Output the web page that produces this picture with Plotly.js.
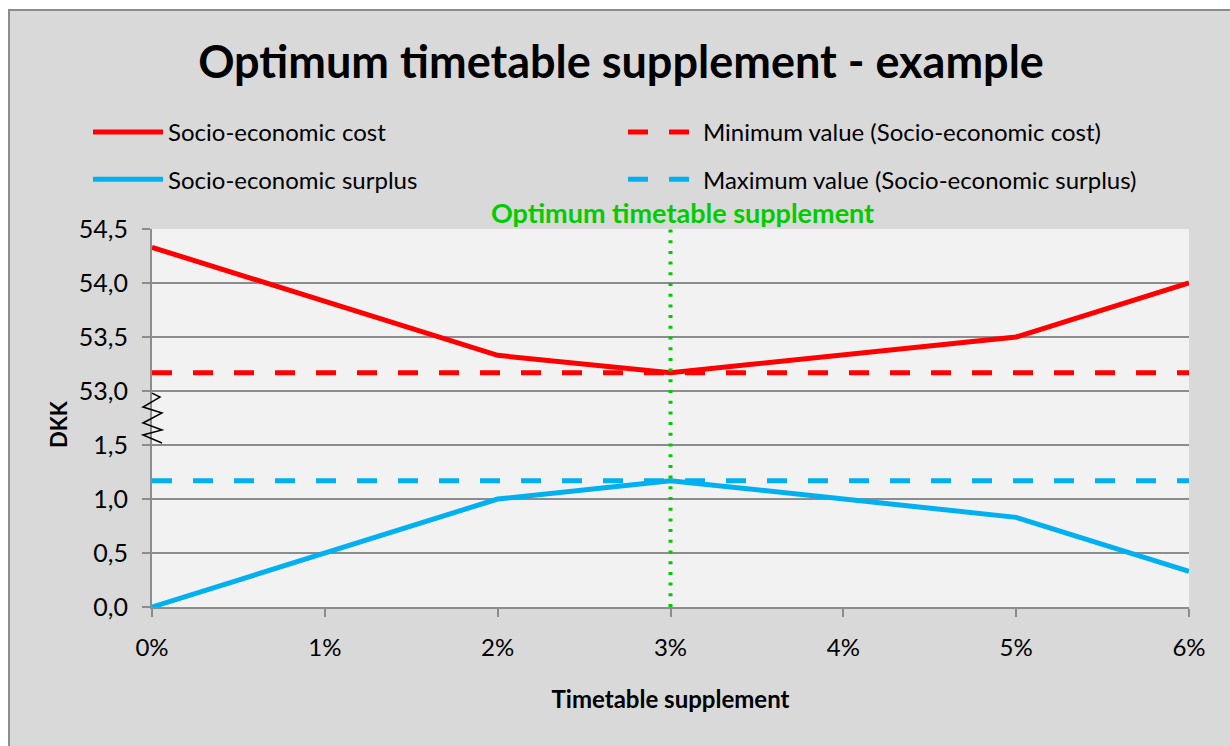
<!DOCTYPE html>
<html><head><meta charset="utf-8">
<script src="https://cdn.plot.ly/plotly-3.0.1.min.js"></script>
<style>
html,body{margin:0;padding:0;background:#fff;width:1230px;height:746px;overflow:hidden;}
#frame{position:absolute;left:8px;top:9px;width:1222px;height:737px;border-left:2px solid #8c8c8c;border-top:2px solid #8c8c8c;background:#d9d9d9;}
#chart{width:1220px;height:735px;}
</style></head><body>
<div id="frame"><div id="chart"></div></div>
<script>
const categories = ['0%','1%','2%','3%','4%','5%','6%'];
const socioEconomicCost = [54.33, 53.83, 53.33, 53.17, 53.33, 53.5, 54.0];
const socioEconomicSurplus = [0, 0.5, 1.0, 1.17, 1.0, 0.83, 0.33];
const yTickValues = [0, 0.5, 1.0, 1.5, 53.0, 53.5, 54.0, 54.5];
const yTickLabels = ['0,0','0,5','1,0','1,5','53,0','53,5','54,0','54,5'];
const axisBreakLow = 1.5, axisBreakHigh = 53.0;

// broken axis: values above the break are shifted down so 53,0 sits one step above 1,5
const breakShift = axisBreakHigh - axisBreakLow - 0.5;
const toAxis = v => v >= axisBreakHigh ? v - breakShift : v;

const xIdx = categories.map((c,i)=>i);
const minCost = Math.min(...socioEconomicCost);
const maxSurplus = Math.max(...socioEconomicSurplus);
const optIdx = socioEconomicCost.indexOf(minCost);
const yTop = toAxis(yTickValues[yTickValues.length-1]);

const RED = '#ff0000', BLUE = '#00b0f0', GREEN = '#00cc00', GRID = '#8c8c8c';
const FONT = 'Lato, "Open Sans", sans-serif';

// axis-break zigzag decoration (pixel offsets around the y axis, y inside the break gap)
const plotW = 1037;
const zigOffsets = [0, 8, -9, 10, -9, 10, -9, 10];
const zigY = [1.981, 1.944, 1.852, 1.796, 1.704, 1.639, 1.593, 1.519];
const zigPath = zigOffsets.map((p,i)=>(i?'L':'M')+(p/plotW).toFixed(5)+','+zigY[i]).join(' ');

const traces = [
  {x: xIdx, y: socioEconomicCost.map(toAxis), name: 'Socio-economic cost', mode: 'lines',
   line: {color: RED, width: 5}, legend: 'legend', legendgroup: 'a'},
  {x: xIdx, y: socioEconomicSurplus.map(toAxis), name: 'Socio-economic surplus', mode: 'lines',
   line: {color: BLUE, width: 5}, legend: 'legend', legendgroup: 'b'},
  {x: [xIdx[0], xIdx[xIdx.length-1]], y: [toAxis(minCost), toAxis(minCost)], name: 'Minimum value (Socio-economic cost)', mode: 'lines',
   line: {color: RED, width: 5, dash: '20px,21px'}, legend: 'legend2', legendgroup: 'c'},
  {x: [xIdx[0], xIdx[xIdx.length-1]], y: [toAxis(maxSurplus), toAxis(maxSurplus)], name: 'Maximum value (Socio-economic surplus)', mode: 'lines',
   line: {color: BLUE, width: 5, dash: '20px,21px'}, legend: 'legend2', legendgroup: 'd'},
  {x: [optIdx, optIdx], y: [0, yTop], mode: 'lines', showlegend: false,
   line: {color: GREEN, width: 4, dash: '3px,7.7px'}, hoverinfo: 'skip'}
];

const layout = {
  width: 1220, height: 735,
  paper_bgcolor: '#d9d9d9', plot_bgcolor: '#f2f2f2',
  margin: {l: 142, r: 41, t: 218, b: 139, autoexpand: false},
  font: {family: FONT, size: 24, color: '#000'},
  title: {text: '<b>Optimum timetable supplement - example</b>', font: {family: FONT, size: 45, color: '#000'},
          x: 611/1220, xref: 'container', y: 1 - 51/735, yref: 'container', yanchor: 'middle', xanchor: 'center'},
  xaxis: {range: [0, 6], tickvals: xIdx, ticktext: categories, showgrid: false, zeroline: false,
          showline: true, linecolor: GRID, linewidth: 2, ticks: 'outside', ticklen: 8, tickcolor: GRID, tickwidth: 2,
          ticklabelstandoff: 10, tickfont: {size: 24},
          title: {text: '<b>Timetable supplement</b>', font: {size: 24}, standoff: 31}},
  yaxis: {range: [0, yTop], tickvals: yTickValues.map(toAxis), ticktext: yTickLabels, zeroline: false,
          showgrid: true, gridcolor: GRID, gridwidth: 2, showline: true, linecolor: GRID, linewidth: 2,
          ticks: 'outside', ticklen: 8, tickcolor: GRID, tickwidth: 2, ticklabelstandoff: 9, tickfont: {size: 25}},
  legend: {xref: 'container', yref: 'container', x: 78/1220, y: 1 - 99/735, xanchor: 'left', yanchor: 'top',
           orientation: 'v', bgcolor: 'rgba(0,0,0,0)', itemwidth: 70, tracegroupgap: 13, traceorder: 'grouped',
           font: {size: 24}},
  legend2: {xref: 'container', yref: 'container', x: 613/1220, y: 1 - 99/735, xanchor: 'left', yanchor: 'top',
           orientation: 'v', bgcolor: 'rgba(0,0,0,0)', itemwidth: 70, tracegroupgap: 13, traceorder: 'grouped',
           font: {size: 24}},
  annotations: [
    {x: optIdx, y: yTop, xref: 'x', yref: 'y', text: '<b>Optimum timetable supplement</b>', showarrow: false,
     yanchor: 'bottom', xanchor: 'center', xshift: 12, yshift: -2, font: {size: 27, color: GREEN}},
    {x: 0, y: 0.5, xref: 'paper', yref: 'paper', text: '<b>DKK</b>', showarrow: false, textangle: -90,
     xanchor: 'center', yanchor: 'middle', xshift: -94, yshift: -6, font: {size: 22}}
  ],
  shapes: [
    {type: 'path', xref: 'paper', yref: 'y', path: zigPath, layer: 'above', line: {color: '#000', width: 1.5}}
  ],
  showlegend: true
};

Plotly.newPlot('chart', traces, layout, {displayModeBar: false, staticPlot: true});
</script>
</body></html>
